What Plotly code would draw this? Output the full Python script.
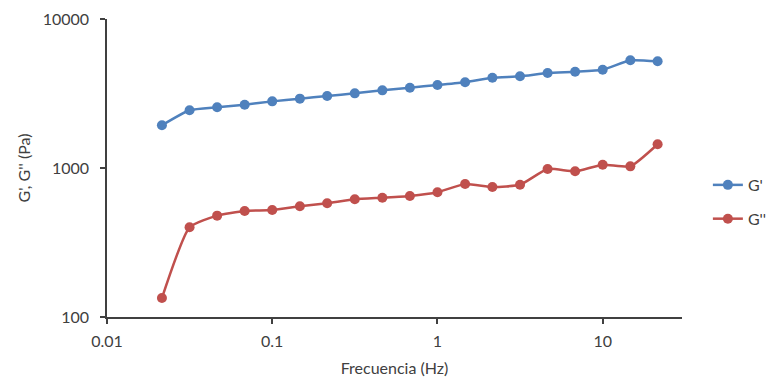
import plotly.graph_objects as go

# Frequency sweep (Hz), six points per decade
frecuencia = [0.0215, 0.0316, 0.0464, 0.0681, 0.1, 0.147, 0.215, 0.316, 0.464,
              0.681, 1.0, 1.47, 2.15, 3.16, 4.64, 6.81, 10.0, 14.7, 21.5]

# Storage modulus G' (Pa)
g_storage = [1935, 2440, 2555, 2660, 2800, 2920, 3040, 3170, 3320,
             3460, 3605, 3760, 4035, 4125, 4340, 4430, 4570, 5280, 5200]

# Loss modulus G'' (Pa)
g_loss = [134, 400, 479, 515, 522, 553, 580, 617, 632,
          649, 687, 781, 746, 772, 985, 950, 1052, 1026, 1443]

x_ticks = [0.01, 0.1, 1, 10]
x_ticktext = ["0.01", "0.1", "1", "10"]
y_ticks = [100, 1000, 10000]
y_ticktext = ["100", "1000", "10000"]

FONT = "Lato, 'Open Sans', sans-serif"
TEXT = "#404040"
AXIS = "#404040"
FS = 16

fig = go.Figure()
fig.add_trace(go.Scatter(
    x=frecuencia, y=g_storage, name="G'", mode="lines+markers",
    line=dict(color="#4F81BD", width=2.5, shape="spline", smoothing=0.5),
    marker=dict(color="#4F81BD", size=10), legendgroup="a",
))
fig.add_trace(go.Scatter(
    x=frecuencia, y=g_loss, name="G''", mode="lines+markers",
    line=dict(color="#C0504D", width=2.5, shape="spline", smoothing=0.5),
    marker=dict(color="#C0504D", size=10), legendgroup="b",
))

fig.update_layout(
    width=776, height=383,
    margin=dict(l=107, r=94, t=19, b=66, autoexpand=False),
    paper_bgcolor="white", plot_bgcolor="white",
    font=dict(family=FONT, size=FS, color=TEXT),
    showlegend=True,
    legend=dict(
        x=1.045, y=0.386, xanchor="left", yanchor="middle",
        traceorder="grouped", tracegroupgap=10, itemwidth=30,
        font=dict(size=FS, color=TEXT), bgcolor="rgba(0,0,0,0)",
    ),
    xaxis=dict(
        type="log", range=[-2, 1.48],
        tickvals=x_ticks, ticktext=x_ticktext,
        showgrid=False, zeroline=False,
        showline=True, linecolor=AXIS, linewidth=1.5,
        ticks="outside", ticklen=5, tickwidth=1.5, tickcolor=AXIS,
        tickfont=dict(size=FS, color=TEXT),
        ticklabelstandoff=4,
        title=dict(text="Frecuencia (Hz)", font=dict(size=FS, color=TEXT), standoff=14),
    ),
    yaxis=dict(
        type="log", range=[2, 4],
        tickvals=y_ticks, ticktext=y_ticktext,
        showgrid=False, zeroline=False,
        showline=True, linecolor=AXIS, linewidth=1.5,
        ticks="outside", ticklen=5, tickwidth=1.5, tickcolor=AXIS,
        tickfont=dict(size=FS, color=TEXT),
        ticklabelstandoff=8,
        title=dict(text="G', G'' (Pa)", font=dict(size=FS, color=TEXT), standoff=8),
    ),
)

fig.write_html("out.html")
